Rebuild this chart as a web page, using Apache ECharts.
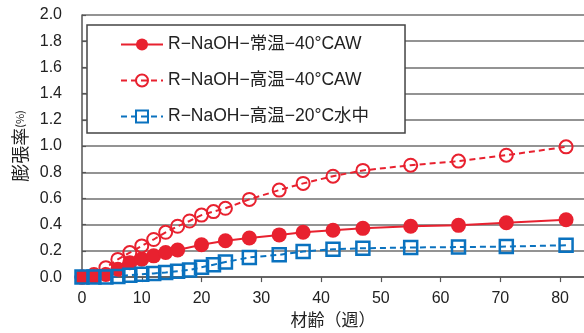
<!DOCTYPE html>
<html>
<head>
<meta charset="utf-8">
<script src="https://cdn.jsdelivr.net/npm/echarts@6/dist/echarts.min.js"></script>
<style>html,body{margin:0;padding:0;background:#fff}#c{width:584px;height:333px}</style>
</head>
<body>
<div id="c"></div>
<script>
var seriesNames = ['R−NaOH−常温−40°CAW', 'R−NaOH−高温−40°CAW', 'R−NaOH−高温−20°C水中'];
var weeks1 = [0, 2, 4, 6, 8, 10, 12, 14, 16, 20, 24, 28, 33, 37, 42, 47, 55, 63, 71, 81];
var values1 = [0, 0.005, 0.02, 0.06, 0.11, 0.137, 0.162, 0.188, 0.207, 0.247, 0.277, 0.298, 0.322, 0.342, 0.357, 0.372, 0.388, 0.395, 0.415, 0.438];
var weeks2 = [0, 2, 4, 6, 8, 10, 12, 14, 16, 18, 20, 22, 24, 28, 33, 37, 42, 47, 55, 63, 71, 81];
var values2 = [0, 0.02, 0.072, 0.135, 0.187, 0.238, 0.287, 0.342, 0.388, 0.428, 0.473, 0.5, 0.525, 0.593, 0.664, 0.715, 0.77, 0.814, 0.854, 0.885, 0.93, 0.994];
var weeks3 = [0, 2, 4, 6, 8, 10, 12, 14, 16, 18, 20, 22, 24, 28, 33, 37, 42, 47, 55, 63, 71, 81];
var values3 = [0, 0, 0, 0.005, 0.015, 0.022, 0.028, 0.035, 0.045, 0.055, 0.075, 0.095, 0.115, 0.15, 0.17, 0.195, 0.212, 0.22, 0.226, 0.229, 0.233, 0.243];
var xTicks = [0, 10, 20, 30, 40, 50, 60, 70, 80];
var yTicks = ['0.0','0.2','0.4','0.6','0.8','1.0','1.2','1.4','1.6','1.8','2.0'];

function pairs(xs, ys) { return xs.map(function (x, i) { return [x, ys[i]]; }); }

var RED = '#e8212f', BLUE = '#0a72bf';
var LAT = '"Liberation Sans", "Noto Sans CJK JP", sans-serif';
var chart = echarts.init(document.getElementById('c'), null, {renderer: 'canvas'});
chart.setOption({
  animation: false,
  backgroundColor: '#fff',
  grid: {left: 82, right: 0, top: 15, bottom: 55, containLabel: false},
  xAxis: {
    type: 'value', min: 0, max: 84, interval: 10,
    name: '材齢（週）', nameLocation: 'middle', nameGap: 33,
    nameTextStyle: {fontSize: 17, color: '#222', fontFamily: '"Noto Sans CJK JP", sans-serif'},
    axisLine: {show: true, lineStyle: {color: '#555', width: 1.5}},
    axisTick: {show: true, inside: false, length: 5, lineStyle: {color: '#555', width: 1.2}},
    axisLabel: {fontSize: 16, color: '#222', margin: 13, fontFamily: LAT, showMaxLabel: false,
      formatter: function (v) { return xTicks.indexOf(v) >= 0 ? String(v) : ''; }},
    splitLine: {show: false}
  },
  yAxis: {
    type: 'value', min: 0, max: 2, interval: 0.2,
    name: '膨張率{s|(%)}', nameLocation: 'middle', nameGap: 48, nameRotate: 90,
    nameTextStyle: {fontSize: 18, color: '#222', fontFamily: '"Noto Sans CJK JP", sans-serif',
      rich: {s: {fontSize: 11, color: '#222', fontFamily: '"Noto Sans CJK JP", sans-serif'}}},
    axisLine: {show: true, lineStyle: {color: '#555', width: 1.5}},
    axisTick: {show: true, inside: true, length: 4, lineStyle: {color: '#555', width: 1.2}},
    axisLabel: {fontSize: 16, color: '#222', margin: 20, fontFamily: LAT,
      formatter: function (v) { return yTicks[Math.round(v / 0.2)]; }},
    splitLine: {show: true, lineStyle: {color: '#6f6f6f', width: 1.5}}
  },
  legend: {
    show: true, orient: 'vertical', left: 87, top: 25,
    padding: [9, 36, 6, 33], itemGap: 15, itemWidth: 42, itemHeight: 15,
    backgroundColor: '#fff', borderColor: '#444', borderWidth: 1.5,
    textStyle: {fontSize: 17.5, color: '#222', fontFamily: LAT, lineHeight: 21},
    data: seriesNames
  },
  series: [
    {
      name: seriesNames[0], type: 'line', data: pairs(weeks1, values1),
      symbol: 'circle', symbolSize: 15,
      lineStyle: {color: RED, width: 2},
      itemStyle: {color: RED, borderWidth: 0}
    },
    {
      name: seriesNames[1], type: 'line', data: pairs(weeks2, values2),
      symbol: 'circle', symbolSize: 13,
      lineStyle: {color: RED, width: 2, type: [6, 4]},
      itemStyle: {color: 'rgba(255,255,255,0)', borderColor: RED, borderWidth: 2}
    },
    {
      name: seriesNames[2], type: 'line', data: pairs(weeks3, values3),
      symbol: 'rect', symbolSize: 13,
      lineStyle: {color: BLUE, width: 2, type: [6, 4]},
      itemStyle: {color: 'rgba(255,255,255,0)', borderColor: BLUE, borderWidth: 2.5}
    }
  ]
});
</script>
</body>
</html>
